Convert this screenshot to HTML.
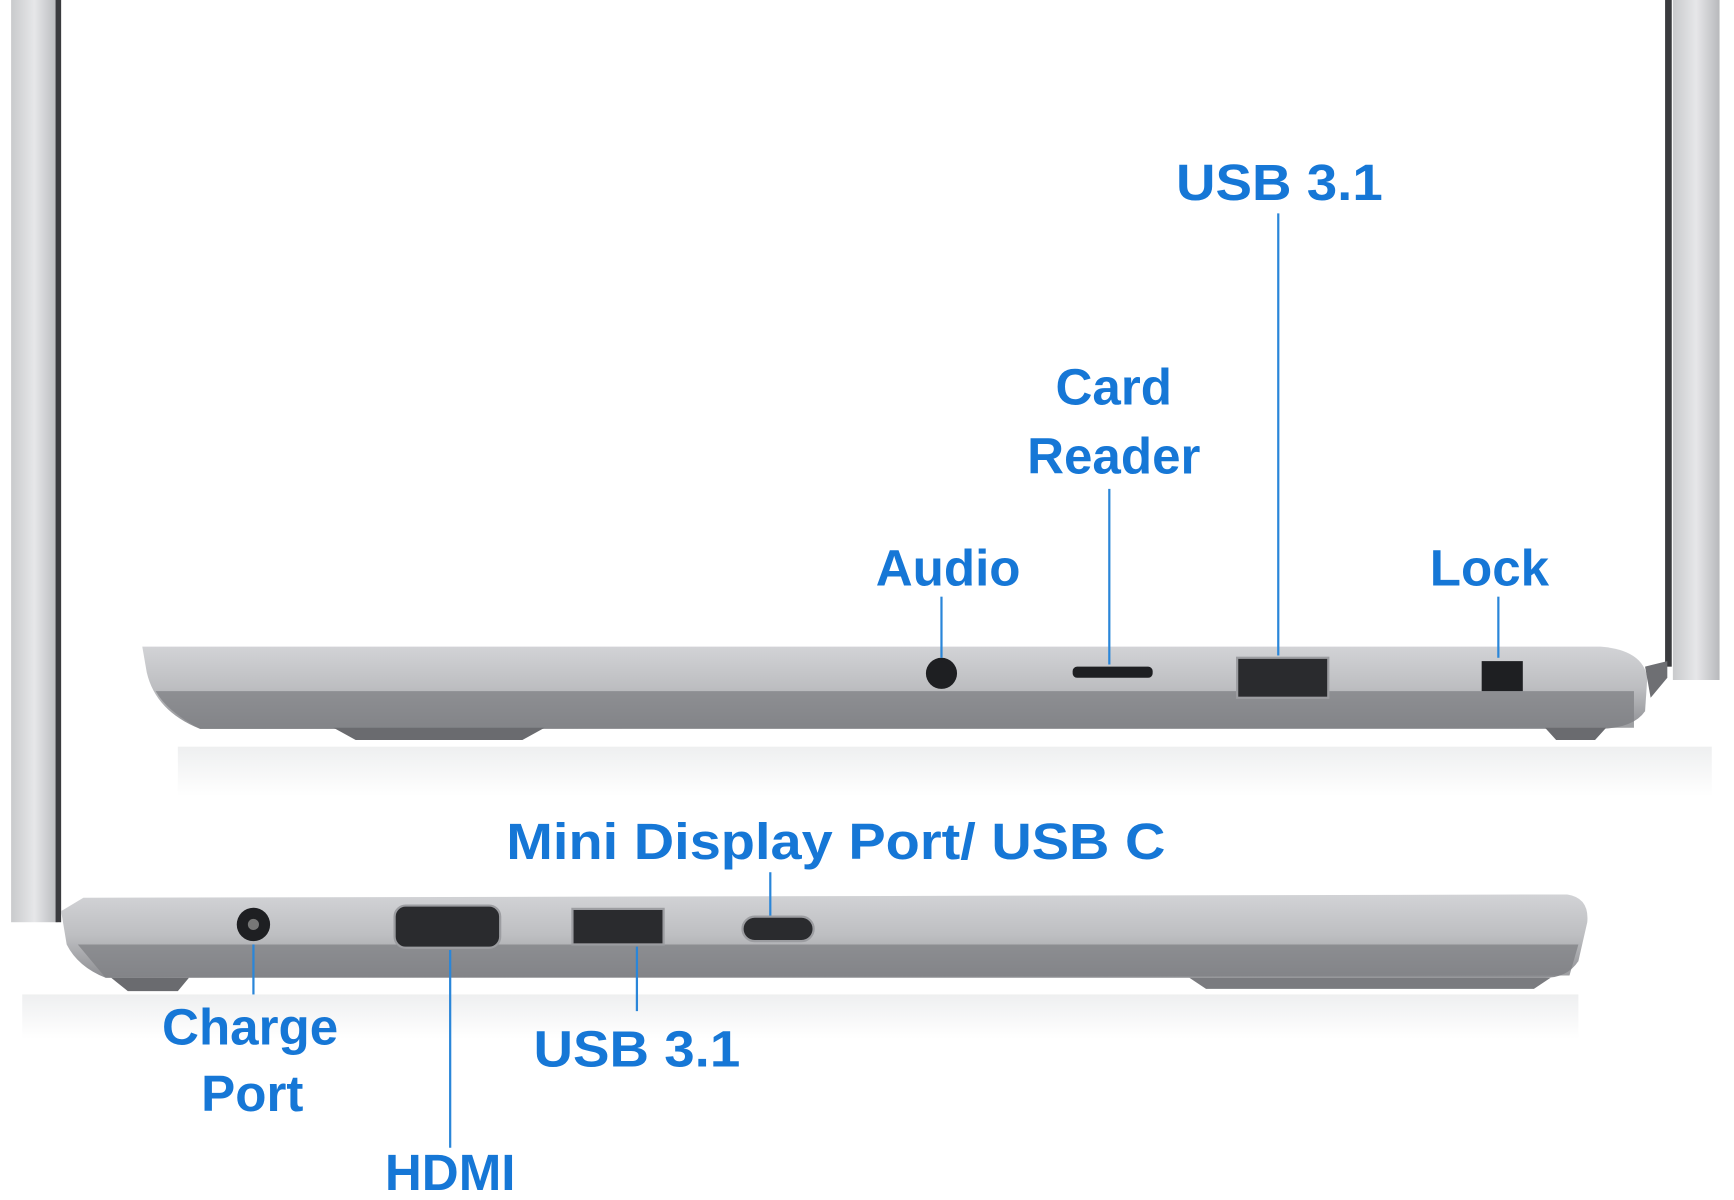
<!DOCTYPE html>
<html><head><meta charset="utf-8"><style>
html,body{margin:0;padding:0;background:#fff;}
svg{display:block}
text{font-family:"Liberation Sans",Arial,sans-serif;font-weight:bold;fill:#1677d6}
</style></head><body>
<svg width="1734" height="1200" viewBox="0 0 1560 1080" preserveAspectRatio="none" xmlns="http://www.w3.org/2000/svg">
<defs>
<linearGradient id="bez" x1="0" x2="1"><stop offset="0" stop-color="#c9cacc"/><stop offset="0.5" stop-color="#e6e7e9"/><stop offset="1" stop-color="#b8b9bc"/></linearGradient>
<linearGradient id="body" x1="0" y1="0" x2="0" y2="1"><stop offset="0" stop-color="#d2d3d6"/><stop offset="0.5" stop-color="#bdbec1"/><stop offset="1" stop-color="#8e8f93"/></linearGradient>
<linearGradient id="refl" x1="0" y1="0" x2="0" y2="1"><stop offset="0" stop-color="#eeeff0"/><stop offset="1" stop-color="#fff"/></linearGradient>
</defs>
<rect width="1560" height="1080" fill="#fff"/>
<rect x="10" y="0" width="42" height="830" fill="url(#bez)"/>
<rect x="50" y="0" width="5" height="830" fill="#3a3b3e"/>
<rect x="1505" y="0" width="42" height="612" fill="url(#bez)"/>
<rect x="1498" y="0" width="6" height="600" fill="#3a3b3e"/>
<!-- top laptop -->
<path d="M128 582 L1440 582 Q1478 585 1482 610 L1480 640 Q1470 655 1440 656 L180 656 Q140 640 132 605 Z" fill="url(#body)"/>
<path d="M140 622 L1470 622 L1470 655 L180 656 Q150 640 140 622 Z" fill="#7f8084" opacity="0.75"/>
<path d="M300 655 L490 655 L470 666 L320 666 Z" fill="#6a6b6f"/>
<path d="M1390 655 L1445 655 L1435 666 L1400 666 Z" fill="#6a6b6f"/>
<rect x="160" y="672" width="1380" height="45" fill="url(#refl)"/>
<path d="M1480 600 L1500 595 L1500 610 L1485 628 Z" fill="#6e6f73"/>
<circle cx="847" cy="606" r="14" fill="#1e1f22"/>
<rect x="965" y="600" width="72" height="10" rx="4" fill="#1e1f22"/>
<rect x="1113" y="592" width="82" height="36" fill="#2a2b2e" stroke="#9c9da1" stroke-width="2"/>
<rect x="1333" y="595" width="37" height="27" fill="#1e1f22"/>
<!-- bottom laptop -->
<path d="M55 820 L75 808 L1410 805 Q1430 808 1428 830 L1420 865 Q1410 880 1390 880 L95 880 Q70 870 60 850 Z" fill="url(#body)"/>
<path d="M70 850 L1420 850 L1412 878 L95 880 Z" fill="#7f8084" opacity="0.75"/>
<path d="M100 880 L170 880 L160 892 L115 892 Z" fill="#6a6b6f"/>
<path d="M1070 880 L1395 880 L1380 890 L1085 890 Z" fill="#7a7b7f"/>
<rect x="20" y="895" width="1400" height="40" fill="url(#refl)"/>
<circle cx="228" cy="832" r="15" fill="#1e1f22"/>
<circle cx="228" cy="832" r="5" fill="#777"/>
<rect x="355" y="815" width="95" height="38" rx="10" fill="#2a2b2e" stroke="#9c9da1" stroke-width="2"/>
<rect x="515" y="818" width="82" height="32" fill="#2a2b2e" stroke="#9c9da1" stroke-width="2"/>
<rect x="668" y="825" width="64" height="22" rx="11" fill="#2a2b2e" stroke="#9c9da1" stroke-width="2"/>
<g stroke="#2a86d9" stroke-width="2">
<line x1="1150" y1="192" x2="1150" y2="590"/>
<line x1="998" y1="440" x2="998" y2="598"/>
<line x1="847" y1="537" x2="847" y2="592"/>
<line x1="1348" y1="537" x2="1348" y2="592"/>
<line x1="693" y1="785" x2="693" y2="824"/>
<line x1="228" y1="850" x2="228" y2="895"/>
<line x1="573" y1="852" x2="573" y2="910"/>
<line x1="405" y1="855" x2="405" y2="1033"/>
</g>
<g font-size="46" text-anchor="middle">
<text x="1151" y="180" textLength="186" lengthAdjust="spacingAndGlyphs">USB 3.1</text>
<text x="1002" y="364">Card</text>
<text x="1002" y="426">Reader</text>
<text x="853" y="527">Audio</text>
<text x="1340" y="527">Lock</text>
<text x="752" y="773" textLength="593" lengthAdjust="spacingAndGlyphs">Mini Display Port/ USB C</text>
<text x="225" y="940">Charge</text>
<text x="227" y="1000">Port</text>
<text x="573" y="960" textLength="186" lengthAdjust="spacingAndGlyphs">USB 3.1</text>
<text x="405" y="1071">HDMI</text>
</g>
</svg>
</body></html>
